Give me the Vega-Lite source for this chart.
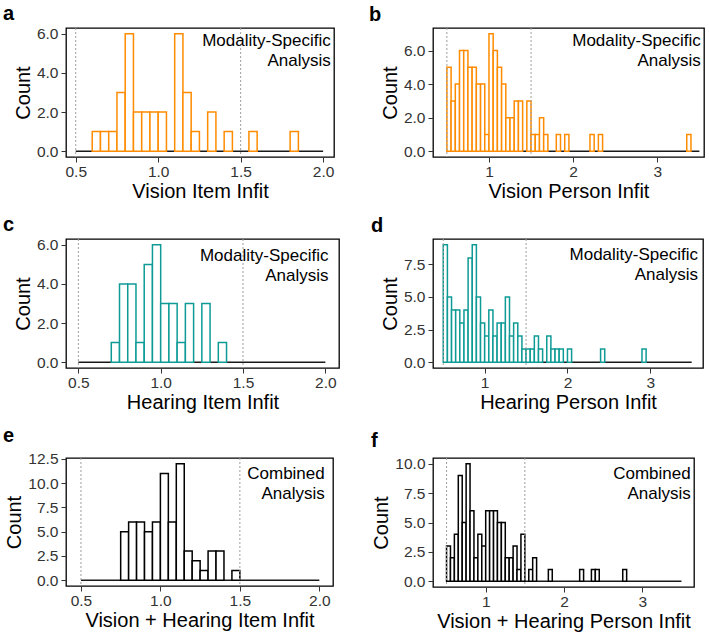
{
  "$schema": "https://vega.github.io/schema/vega-lite/v6.json",
  "padding": {"left": 2, "top": 3, "right": 2, "bottom": 2},
  "columns": 2,
  "align": "each",
  "spacing": {"row": 11, "column": 28},
  "config": {
    "font": "Liberation Sans",
    "view": {"stroke": "black", "strokeWidth": 1.3},
    "axis": {
      "domain": false, "grid": false, "ticks": true, "tickSize": 5, "tickColor": "#333333", "tickWidth": 1,
      "labelFont": "Liberation Sans", "labelFontSize": 15.5, "labelColor": "#333333", "labelPadding": 2,
      "labelFlush": false,
      "titleFont": "Liberation Sans", "titleFontSize": 20, "titleFontWeight": "normal", "titleColor": "black"
    },
    "axisX": {"titlePadding": 2},
    "axisY": {"titlePadding": 3, "labelPadding": 3},
    "title": {"font": "Liberation Sans", "fontSize": 20, "fontWeight": "bold", "anchor": "start", "frame": "group", "baseline": "alphabetic", "color": "black"}
  },
  "concat": [
    {
      "width": 268, "height": 129,
      "title": {"text": "a", "dx": -63, "offset": 3},
      "layer": [
        {
          "data": {"values": [{"from": 0.5, "to": 2.0}]},
          "mark": {"type": "rule", "color": "#1a1a1a", "strokeWidth": 1.5},
          "encoding": {
            "x": {"field": "from", "type": "quantitative", "title": "Vision Item Infit", "scale": {"domain": [0.441, 2.066], "nice": false, "zero": false}, "axis": {"values": [0.5, 1, 1.5, 2], "tickCount": 10, "format": ".1f", "labelOverlap": false}},
            "x2": {"field": "to"},
            "y": {"datum": 0, "type": "quantitative", "scale": {"domain": [-0.3, 6.3], "nice": false, "zero": false}, "axis": {"values": [0, 2, 4, 6], "tickCount": 10, "format": ".1f", "title": "Count", "labelOverlap": false}}
          }
        },
        {
          "data": {"values": [
            {"bin_start": 0.60, "bin_end": 0.65, "count": 1},
            {"bin_start": 0.65, "bin_end": 0.70, "count": 1},
            {"bin_start": 0.70, "bin_end": 0.75, "count": 1},
            {"bin_start": 0.75, "bin_end": 0.80, "count": 3},
            {"bin_start": 0.80, "bin_end": 0.85, "count": 6},
            {"bin_start": 0.85, "bin_end": 0.90, "count": 2},
            {"bin_start": 0.90, "bin_end": 0.95, "count": 2},
            {"bin_start": 0.95, "bin_end": 1.00, "count": 2},
            {"bin_start": 1.00, "bin_end": 1.05, "count": 2},
            {"bin_start": 1.10, "bin_end": 1.15, "count": 6},
            {"bin_start": 1.15, "bin_end": 1.20, "count": 3},
            {"bin_start": 1.20, "bin_end": 1.25, "count": 1},
            {"bin_start": 1.30, "bin_end": 1.35, "count": 2},
            {"bin_start": 1.40, "bin_end": 1.45, "count": 1},
            {"bin_start": 1.55, "bin_end": 1.60, "count": 1},
            {"bin_start": 1.80, "bin_end": 1.85, "count": 1}
          ]},
          "mark": {"type": "rect", "fill": "white", "stroke": "#FF8C00", "strokeWidth": 1.5},
          "encoding": {
            "x": {"field": "bin_start", "type": "quantitative", "title": "Vision Item Infit", "axis": {"values": [0.5, 1, 1.5, 2], "tickCount": 10, "format": ".1f", "labelOverlap": false}},
            "x2": {"field": "bin_end"},
            "y": {"field": "count", "type": "quantitative", "title": "Count", "axis": {"values": [0, 2, 4, 6], "tickCount": 10, "format": ".1f", "labelOverlap": false}},
            "y2": {"datum": 0}
          }
        },
        {
          "data": {"values": [{"cutoff": 0.5}, {"cutoff": 1.5}]},
          "mark": {"type": "rule", "color": "#9e9e9e", "strokeDash": [2, 2], "strokeWidth": 1},
          "encoding": {"x": {"field": "cutoff", "type": "quantitative", "title": "Vision Item Infit"}}
        },
        {
          "data": {"values": [{"note": "label"}]},
          "mark": {"type": "text", "text": ["Modality-Specific", "Analysis"], "align": "right", "baseline": "top", "fontSize": 17, "lineHeight": 20, "color": "black"},
          "encoding": {"x": {"datum": 2.046, "type": "quantitative"}, "y": {"datum": 6.06, "type": "quantitative"}}
        }
      ]
    },
    {
      "width": 271, "height": 129,
      "title": {"text": "b", "dx": -64, "offset": 3},
      "layer": [
        {
          "data": {"values": [{"from": 0.5, "to": 3.5}]},
          "mark": {"type": "rule", "color": "#1a1a1a", "strokeWidth": 1.5},
          "encoding": {
            "x": {"field": "from", "type": "quantitative", "title": "Vision Person Infit", "scale": {"domain": [0.335, 3.555], "nice": false, "zero": false}, "axis": {"values": [1, 2, 3], "tickCount": 10, "format": "d", "labelOverlap": false}},
            "x2": {"field": "to"},
            "y": {"datum": 0, "type": "quantitative", "scale": {"domain": [-0.35, 7.35], "nice": false, "zero": false}, "axis": {"values": [0, 2, 4, 6], "tickCount": 10, "format": ".1f", "title": "Count", "labelOverlap": false}}
          }
        },
        {
          "data": {"values": [
            {"bin_start": 0.50, "bin_end": 0.55, "count": 5},
            {"bin_start": 0.55, "bin_end": 0.60, "count": 3},
            {"bin_start": 0.60, "bin_end": 0.65, "count": 4},
            {"bin_start": 0.65, "bin_end": 0.70, "count": 6},
            {"bin_start": 0.70, "bin_end": 0.75, "count": 6},
            {"bin_start": 0.75, "bin_end": 0.80, "count": 5},
            {"bin_start": 0.80, "bin_end": 0.85, "count": 5},
            {"bin_start": 0.85, "bin_end": 0.90, "count": 4},
            {"bin_start": 0.90, "bin_end": 0.95, "count": 4},
            {"bin_start": 0.95, "bin_end": 1.00, "count": 1},
            {"bin_start": 1.00, "bin_end": 1.05, "count": 7},
            {"bin_start": 1.05, "bin_end": 1.10, "count": 6},
            {"bin_start": 1.10, "bin_end": 1.15, "count": 5},
            {"bin_start": 1.15, "bin_end": 1.20, "count": 4},
            {"bin_start": 1.20, "bin_end": 1.25, "count": 2},
            {"bin_start": 1.25, "bin_end": 1.30, "count": 2},
            {"bin_start": 1.30, "bin_end": 1.35, "count": 3},
            {"bin_start": 1.35, "bin_end": 1.40, "count": 3},
            {"bin_start": 1.45, "bin_end": 1.50, "count": 3},
            {"bin_start": 1.50, "bin_end": 1.55, "count": 1},
            {"bin_start": 1.55, "bin_end": 1.60, "count": 1},
            {"bin_start": 1.60, "bin_end": 1.65, "count": 2},
            {"bin_start": 1.65, "bin_end": 1.70, "count": 1},
            {"bin_start": 1.80, "bin_end": 1.85, "count": 1},
            {"bin_start": 1.90, "bin_end": 1.95, "count": 1},
            {"bin_start": 2.20, "bin_end": 2.25, "count": 1},
            {"bin_start": 2.30, "bin_end": 2.35, "count": 1},
            {"bin_start": 3.35, "bin_end": 3.40, "count": 1}
          ]},
          "mark": {"type": "rect", "fill": "white", "stroke": "#FF8C00", "strokeWidth": 1.5},
          "encoding": {
            "x": {"field": "bin_start", "type": "quantitative", "title": "Vision Person Infit", "axis": {"values": [1, 2, 3], "tickCount": 10, "format": "d", "labelOverlap": false}},
            "x2": {"field": "bin_end"},
            "y": {"field": "count", "type": "quantitative", "title": "Count", "axis": {"values": [0, 2, 4, 6], "tickCount": 10, "format": ".1f", "labelOverlap": false}},
            "y2": {"datum": 0}
          }
        },
        {
          "data": {"values": [{"cutoff": 0.5}, {"cutoff": 1.5}]},
          "mark": {"type": "rule", "color": "#9e9e9e", "strokeDash": [2, 2], "strokeWidth": 1},
          "encoding": {"x": {"field": "cutoff", "type": "quantitative", "title": "Vision Person Infit"}}
        },
        {
          "data": {"values": [{"note": "label"}]},
          "mark": {"type": "text", "text": ["Modality-Specific", "Analysis"], "align": "right", "baseline": "top", "fontSize": 17, "lineHeight": 20, "color": "black"},
          "encoding": {"x": {"datum": 3.516, "type": "quantitative"}, "y": {"datum": 7.07, "type": "quantitative"}}
        }
      ]
    },
    {
      "width": 273, "height": 129,
      "title": {"text": "c", "dx": -63, "offset": 3},
      "layer": [
        {
          "data": {"values": [{"from": 0.5, "to": 2.0}]},
          "mark": {"type": "rule", "color": "#1a1a1a", "strokeWidth": 1.5},
          "encoding": {
            "x": {"field": "from", "type": "quantitative", "title": "Hearing Item Infit", "scale": {"domain": [0.425, 2.083], "nice": false, "zero": false}, "axis": {"values": [0.5, 1, 1.5, 2], "tickCount": 10, "format": ".1f", "labelOverlap": false}},
            "x2": {"field": "to"},
            "y": {"datum": 0, "type": "quantitative", "scale": {"domain": [-0.3, 6.3], "nice": false, "zero": false}, "axis": {"values": [0, 2, 4, 6], "tickCount": 10, "format": ".1f", "title": "Count", "labelOverlap": false}}
          }
        },
        {
          "data": {"values": [
            {"bin_start": 0.70, "bin_end": 0.75, "count": 1},
            {"bin_start": 0.75, "bin_end": 0.80, "count": 4},
            {"bin_start": 0.80, "bin_end": 0.85, "count": 4},
            {"bin_start": 0.85, "bin_end": 0.90, "count": 1},
            {"bin_start": 0.90, "bin_end": 0.95, "count": 5},
            {"bin_start": 0.95, "bin_end": 1.00, "count": 6},
            {"bin_start": 1.00, "bin_end": 1.05, "count": 3},
            {"bin_start": 1.05, "bin_end": 1.10, "count": 3},
            {"bin_start": 1.10, "bin_end": 1.15, "count": 1},
            {"bin_start": 1.15, "bin_end": 1.20, "count": 3},
            {"bin_start": 1.25, "bin_end": 1.30, "count": 3},
            {"bin_start": 1.35, "bin_end": 1.40, "count": 1}
          ]},
          "mark": {"type": "rect", "fill": "white", "stroke": "#0E9B96", "strokeWidth": 1.5},
          "encoding": {
            "x": {"field": "bin_start", "type": "quantitative", "title": "Hearing Item Infit", "axis": {"values": [0.5, 1, 1.5, 2], "tickCount": 10, "format": ".1f", "labelOverlap": false}},
            "x2": {"field": "bin_end"},
            "y": {"field": "count", "type": "quantitative", "title": "Count", "axis": {"values": [0, 2, 4, 6], "tickCount": 10, "format": ".1f", "labelOverlap": false}},
            "y2": {"datum": 0}
          }
        },
        {
          "data": {"values": [{"cutoff": 0.5}, {"cutoff": 1.5}]},
          "mark": {"type": "rule", "color": "#9e9e9e", "strokeDash": [2, 2], "strokeWidth": 1},
          "encoding": {"x": {"field": "cutoff", "type": "quantitative", "title": "Hearing Item Infit"}}
        },
        {
          "data": {"values": [{"note": "label"}]},
          "mark": {"type": "text", "text": ["Modality-Specific", "Analysis"], "align": "right", "baseline": "top", "fontSize": 17, "lineHeight": 20, "color": "black"},
          "encoding": {"x": {"datum": 2.019, "type": "quantitative"}, "y": {"datum": 5.86, "type": "quantitative"}}
        }
      ]
    },
    {
      "width": 270, "height": 129,
      "title": {"text": "d", "dx": -62, "offset": 3},
      "layer": [
        {
          "data": {"values": [{"from": 0.5, "to": 3.5}]},
          "mark": {"type": "rule", "color": "#1a1a1a", "strokeWidth": 1.5},
          "encoding": {
            "x": {"field": "from", "type": "quantitative", "title": "Hearing Person Infit", "scale": {"domain": [0.376, 3.637], "nice": false, "zero": false}, "axis": {"values": [1, 2, 3], "tickCount": 10, "format": "d", "labelOverlap": false}},
            "x2": {"field": "to"},
            "y": {"datum": 0, "type": "quantitative", "scale": {"domain": [-0.45, 9.45], "nice": false, "zero": false}, "axis": {"values": [0, 2.5, 5, 7.5], "tickCount": 10, "format": ".1f", "title": "Count", "labelOverlap": false}}
          }
        },
        {
          "data": {"values": [
            {"bin_start": 0.50, "bin_end": 0.55, "count": 9},
            {"bin_start": 0.55, "bin_end": 0.60, "count": 5},
            {"bin_start": 0.60, "bin_end": 0.65, "count": 4},
            {"bin_start": 0.65, "bin_end": 0.70, "count": 4},
            {"bin_start": 0.70, "bin_end": 0.75, "count": 3},
            {"bin_start": 0.75, "bin_end": 0.80, "count": 4},
            {"bin_start": 0.80, "bin_end": 0.85, "count": 8},
            {"bin_start": 0.85, "bin_end": 0.90, "count": 9},
            {"bin_start": 0.90, "bin_end": 0.95, "count": 5},
            {"bin_start": 0.95, "bin_end": 1.00, "count": 3},
            {"bin_start": 1.00, "bin_end": 1.05, "count": 2},
            {"bin_start": 1.05, "bin_end": 1.10, "count": 4},
            {"bin_start": 1.10, "bin_end": 1.15, "count": 2},
            {"bin_start": 1.15, "bin_end": 1.20, "count": 3},
            {"bin_start": 1.20, "bin_end": 1.25, "count": 3},
            {"bin_start": 1.25, "bin_end": 1.30, "count": 5},
            {"bin_start": 1.30, "bin_end": 1.35, "count": 2},
            {"bin_start": 1.35, "bin_end": 1.40, "count": 3},
            {"bin_start": 1.40, "bin_end": 1.45, "count": 2},
            {"bin_start": 1.45, "bin_end": 1.50, "count": 1},
            {"bin_start": 1.50, "bin_end": 1.55, "count": 1},
            {"bin_start": 1.55, "bin_end": 1.60, "count": 1},
            {"bin_start": 1.60, "bin_end": 1.65, "count": 2},
            {"bin_start": 1.65, "bin_end": 1.70, "count": 1},
            {"bin_start": 1.75, "bin_end": 1.80, "count": 2},
            {"bin_start": 1.80, "bin_end": 1.85, "count": 1},
            {"bin_start": 1.85, "bin_end": 1.90, "count": 1},
            {"bin_start": 1.90, "bin_end": 1.95, "count": 1},
            {"bin_start": 2.00, "bin_end": 2.05, "count": 1},
            {"bin_start": 2.40, "bin_end": 2.45, "count": 1},
            {"bin_start": 2.90, "bin_end": 2.95, "count": 1}
          ]},
          "mark": {"type": "rect", "fill": "white", "stroke": "#0E9B96", "strokeWidth": 1.5},
          "encoding": {
            "x": {"field": "bin_start", "type": "quantitative", "title": "Hearing Person Infit", "axis": {"values": [1, 2, 3], "tickCount": 10, "format": "d", "labelOverlap": false}},
            "x2": {"field": "bin_end"},
            "y": {"field": "count", "type": "quantitative", "title": "Count", "axis": {"values": [0, 2.5, 5, 7.5], "tickCount": 10, "format": ".1f", "labelOverlap": false}},
            "y2": {"datum": 0}
          }
        },
        {
          "data": {"values": [{"cutoff": 0.5}, {"cutoff": 1.5}]},
          "mark": {"type": "rule", "color": "#9e9e9e", "strokeDash": [2, 2], "strokeWidth": 1},
          "encoding": {"x": {"field": "cutoff", "type": "quantitative", "title": "Hearing Person Infit"}}
        },
        {
          "data": {"values": [{"note": "label"}]},
          "mark": {"type": "text", "text": ["Modality-Specific", "Analysis"], "align": "right", "baseline": "top", "fontSize": 17, "lineHeight": 20, "color": "black"},
          "encoding": {"x": {"datum": 3.577, "type": "quantitative"}, "y": {"datum": 8.84, "type": "quantitative"}}
        }
      ]
    },
    {
      "width": 267, "height": 128,
      "title": {"text": "e", "dx": -63, "offset": 6},
      "layer": [
        {
          "data": {"values": [{"from": 0.5, "to": 2.0}]},
          "mark": {"type": "rule", "color": "#1a1a1a", "strokeWidth": 1.5},
          "encoding": {
            "x": {"field": "from", "type": "quantitative", "title": "Vision + Hearing Item Infit", "scale": {"domain": [0.406, 2.086], "nice": false, "zero": false}, "axis": {"values": [0.5, 1, 1.5, 2], "tickCount": 10, "format": ".1f", "labelOverlap": false}},
            "x2": {"field": "to"},
            "y": {"datum": 0, "type": "quantitative", "scale": {"domain": [-0.6, 12.6], "nice": false, "zero": false}, "axis": {"values": [0, 2.5, 5, 7.5, 10, 12.5], "tickCount": 10, "format": ".1f", "title": "Count", "labelOverlap": false}}
          }
        },
        {
          "data": {"values": [
            {"bin_start": 0.75, "bin_end": 0.80, "count": 5},
            {"bin_start": 0.80, "bin_end": 0.85, "count": 6},
            {"bin_start": 0.85, "bin_end": 0.90, "count": 6},
            {"bin_start": 0.90, "bin_end": 0.95, "count": 5},
            {"bin_start": 0.95, "bin_end": 1.00, "count": 6},
            {"bin_start": 1.00, "bin_end": 1.05, "count": 11},
            {"bin_start": 1.05, "bin_end": 1.10, "count": 6},
            {"bin_start": 1.10, "bin_end": 1.15, "count": 12},
            {"bin_start": 1.15, "bin_end": 1.20, "count": 3},
            {"bin_start": 1.20, "bin_end": 1.25, "count": 2},
            {"bin_start": 1.25, "bin_end": 1.30, "count": 1},
            {"bin_start": 1.30, "bin_end": 1.35, "count": 3},
            {"bin_start": 1.35, "bin_end": 1.40, "count": 3},
            {"bin_start": 1.45, "bin_end": 1.50, "count": 1}
          ]},
          "mark": {"type": "rect", "fill": "white", "stroke": "black", "strokeWidth": 1.5},
          "encoding": {
            "x": {"field": "bin_start", "type": "quantitative", "title": "Vision + Hearing Item Infit", "axis": {"values": [0.5, 1, 1.5, 2], "tickCount": 10, "format": ".1f", "labelOverlap": false}},
            "x2": {"field": "bin_end"},
            "y": {"field": "count", "type": "quantitative", "title": "Count", "axis": {"values": [0, 2.5, 5, 7.5, 10, 12.5], "tickCount": 10, "format": ".1f", "labelOverlap": false}},
            "y2": {"datum": 0}
          }
        },
        {
          "data": {"values": [{"cutoff": 0.5}, {"cutoff": 1.5}]},
          "mark": {"type": "rule", "color": "#9e9e9e", "strokeDash": [2, 2], "strokeWidth": 1},
          "encoding": {"x": {"field": "cutoff", "type": "quantitative", "title": "Vision + Hearing Item Infit"}}
        },
        {
          "data": {"values": [{"note": "label"}]},
          "mark": {"type": "text", "text": ["Combined", "Analysis"], "align": "right", "baseline": "top", "fontSize": 17, "lineHeight": 20, "color": "black"},
          "encoding": {"x": {"datum": 2.034, "type": "quantitative"}, "y": {"datum": 11.81, "type": "quantitative"}}
        }
      ]
    },
    {
      "width": 261, "height": 129,
      "title": {"text": "f", "dx": -62, "offset": 6},
      "layer": [
        {
          "data": {"values": [{"from": 0.5, "to": 3.5}]},
          "mark": {"type": "rule", "color": "#1a1a1a", "strokeWidth": 1.5},
          "encoding": {
            "x": {"field": "from", "type": "quantitative", "title": "Vision + Hearing Person Infit", "scale": {"domain": [0.327, 3.66], "nice": false, "zero": false}, "axis": {"values": [1, 2, 3], "tickCount": 10, "format": "d", "labelOverlap": false}},
            "x2": {"field": "to"},
            "y": {"datum": 0, "type": "quantitative", "scale": {"domain": [-0.5, 10.5], "nice": false, "zero": false}, "axis": {"values": [0, 2.5, 5, 7.5, 10], "tickCount": 10, "format": ".1f", "title": "Count", "labelOverlap": false}}
          }
        },
        {
          "data": {"values": [
            {"bin_start": 0.50, "bin_end": 0.55, "count": 3},
            {"bin_start": 0.55, "bin_end": 0.60, "count": 2},
            {"bin_start": 0.60, "bin_end": 0.65, "count": 4},
            {"bin_start": 0.65, "bin_end": 0.70, "count": 9},
            {"bin_start": 0.70, "bin_end": 0.75, "count": 5},
            {"bin_start": 0.75, "bin_end": 0.80, "count": 10},
            {"bin_start": 0.80, "bin_end": 0.85, "count": 6},
            {"bin_start": 0.85, "bin_end": 0.90, "count": 2},
            {"bin_start": 0.90, "bin_end": 0.95, "count": 4},
            {"bin_start": 0.95, "bin_end": 1.00, "count": 3},
            {"bin_start": 1.00, "bin_end": 1.05, "count": 6},
            {"bin_start": 1.05, "bin_end": 1.10, "count": 6},
            {"bin_start": 1.10, "bin_end": 1.15, "count": 6},
            {"bin_start": 1.15, "bin_end": 1.20, "count": 5},
            {"bin_start": 1.20, "bin_end": 1.25, "count": 5},
            {"bin_start": 1.25, "bin_end": 1.30, "count": 2},
            {"bin_start": 1.30, "bin_end": 1.35, "count": 2},
            {"bin_start": 1.35, "bin_end": 1.40, "count": 3},
            {"bin_start": 1.40, "bin_end": 1.45, "count": 1},
            {"bin_start": 1.45, "bin_end": 1.50, "count": 4},
            {"bin_start": 1.55, "bin_end": 1.60, "count": 1},
            {"bin_start": 1.60, "bin_end": 1.65, "count": 2},
            {"bin_start": 1.80, "bin_end": 1.85, "count": 1},
            {"bin_start": 2.20, "bin_end": 2.25, "count": 1},
            {"bin_start": 2.35, "bin_end": 2.40, "count": 1},
            {"bin_start": 2.40, "bin_end": 2.45, "count": 1},
            {"bin_start": 2.75, "bin_end": 2.80, "count": 1}
          ]},
          "mark": {"type": "rect", "fill": "white", "stroke": "black", "strokeWidth": 1.5},
          "encoding": {
            "x": {"field": "bin_start", "type": "quantitative", "title": "Vision + Hearing Person Infit", "axis": {"values": [1, 2, 3], "tickCount": 10, "format": "d", "labelOverlap": false}},
            "x2": {"field": "bin_end"},
            "y": {"field": "count", "type": "quantitative", "title": "Count", "axis": {"values": [0, 2.5, 5, 7.5, 10], "tickCount": 10, "format": ".1f", "labelOverlap": false}},
            "y2": {"datum": 0}
          }
        },
        {
          "data": {"values": [{"cutoff": 0.5}, {"cutoff": 1.5}]},
          "mark": {"type": "rule", "color": "#9e9e9e", "strokeDash": [2, 2], "strokeWidth": 1},
          "encoding": {"x": {"field": "cutoff", "type": "quantitative", "title": "Vision + Hearing Person Infit"}}
        },
        {
          "data": {"values": [{"note": "label"}]},
          "mark": {"type": "text", "text": ["Combined", "Analysis"], "align": "right", "baseline": "top", "fontSize": 17, "lineHeight": 20, "color": "black"},
          "encoding": {"x": {"datum": 3.618, "type": "quantitative"}, "y": {"datum": 9.84, "type": "quantitative"}}
        }
      ]
    }
  ]
}
